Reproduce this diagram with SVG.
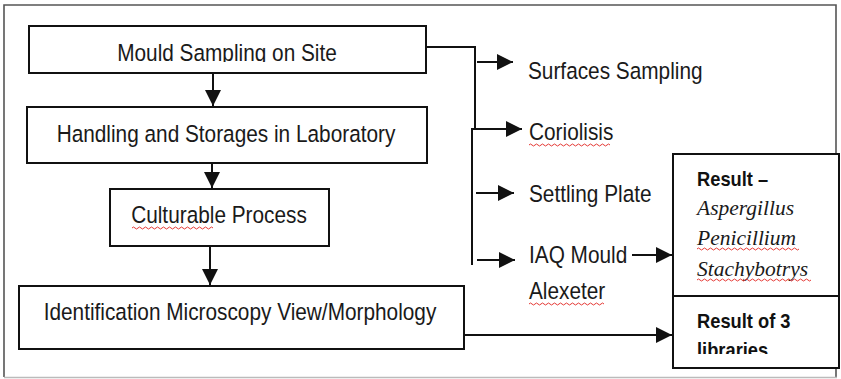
<svg xmlns="http://www.w3.org/2000/svg" width="841" height="379" viewBox="0 0 841 379">
<defs>
<style>
.frame{fill:none;stroke:#555;stroke-width:1.6}
.box{fill:#fff;stroke:#111;stroke-width:2}
.ln{fill:none;stroke:#111;stroke-width:2}
.t{font-family:"Liberation Sans",Arial,sans-serif;font-size:20.8px;fill:#1a1a1a}
.c{text-anchor:middle}
.b{font-family:"Liberation Sans",Arial,sans-serif;font-size:18.3px;font-weight:bold;fill:#111}
.i{font-family:"Liberation Serif","Times New Roman",serif;font-size:21.5px;font-style:italic;fill:#1a1a1a}
.sq{fill:none;stroke:#e53935;stroke-width:1}
</style>
<marker id="ahs" viewBox="0 0 10 10" refX="10" refY="5" markerWidth="8" markerHeight="8" markerUnits="strokeWidth" orient="auto">
<path d="M0,0 L10,5 L0,10 Z" fill="#111"/>
</marker>
<clipPath id="clip1"><rect x="28" y="25" width="400" height="37"/></clipPath>
<clipPath id="clip2"><rect x="673" y="296" width="166" height="58"/></clipPath>
</defs>
<rect x="0" y="0" width="841" height="379" fill="#fff"/>
<path class="frame" d="M4,377 V5 H836 V377"/>
<line x1="4" y1="377.5" x2="837" y2="377.5" stroke="#bbb" stroke-width="1.5"/>

<g id="connectors">
<line class="ln" x1="213" y1="73" x2="213" y2="106" marker-end="url(#ahs)"/>
<line class="ln" x1="212" y1="163" x2="212" y2="188" marker-end="url(#ahs)"/>
<line class="ln" x1="210" y1="246" x2="210" y2="285" marker-end="url(#ahs)"/>
<path class="ln" d="M426,47 H475 V129"/>
<path class="ln" d="M472,128 V265"/>
<line class="ln" x1="477" y1="62" x2="513" y2="62" marker-end="url(#ahs)"/>
<line class="ln" x1="472" y1="129" x2="522" y2="129" marker-end="url(#ahs)"/>
<line class="ln" x1="476" y1="193" x2="514" y2="193" marker-end="url(#ahs)"/>
<line class="ln" x1="477" y1="260" x2="515" y2="260" marker-end="url(#ahs)"/>
<line class="ln" x1="632" y1="255" x2="672" y2="255" marker-end="url(#ahs)"/>
<line class="ln" x1="464" y1="335" x2="672" y2="335" marker-end="url(#ahs)"/>
</g>

<g id="mould-sampling">
<rect class="box" x="29" y="26" width="397" height="47"/>
<g clip-path="url(#clip1)"><text class="t c" transform="translate(227,61) scale(1,1.13)">Mould Sampling on Site</text></g>
</g>
<g id="handling">
<rect class="box" x="27" y="107" width="400" height="56"/>
<text class="t c" transform="translate(226,142) scale(1,1.13)">Handling and Storages in Laboratory</text>
</g>
<g id="culturable">
<rect class="box" x="110" y="189" width="219" height="57"/>
<text class="t c" transform="translate(219,223) scale(1,1.13)">Culturable Process</text>
<path class="sq" d="M132,228 q1.5,-2 3,0 t3,0 t3,0 t3,0 t3,0 t3,0 t3,0 t3,0 t3,0 t3,0 t3,0 t3,0 t3,0 t3,0 t3,0 t3,0 t3,0 t3,0 t3,0 t3,0 t3,0 t3,0 t3,0 t3,0 t3,0 t3,0 t3,0"/>
</g>
<g id="identification">
<rect class="box" x="19" y="286" width="445" height="63"/>
<text class="t c" transform="translate(240,320) scale(1,1.13)">Identification Microscopy View/Morphology</text>
</g>
<g id="surfaces">
<text class="t" transform="translate(528,79) scale(1,1.13)">Surfaces Sampling</text>
</g>
<g id="coriolisis">
<text class="t" transform="translate(529,140) scale(1,1.13)">Coriolisis</text>
<path class="sq" d="M529,145 q1.5,-2 3,0 t3,0 t3,0 t3,0 t3,0 t3,0 t3,0 t3,0 t3,0 t3,0 t3,0 t3,0 t3,0 t3,0 t3,0 t3,0 t3,0 t3,0 t3,0 t3,0 t3,0 t3,0 t3,0 t3,0 t3,0 t3,0 t3,0"/>
</g>
<g id="settling">
<text class="t" transform="translate(529,202) scale(1,1.13)">Settling Plate</text>
</g>
<g id="iaq">
<text class="t" transform="translate(529,263) scale(1,1.13)">IAQ Mould</text>
<text class="t" transform="translate(529,299) scale(1,1.13)">Alexeter</text>
<path class="sq" d="M529,304 q1.5,-2 3,0 t3,0 t3,0 t3,0 t3,0 t3,0 t3,0 t3,0 t3,0 t3,0 t3,0 t3,0 t3,0 t3,0 t3,0 t3,0 t3,0 t3,0 t3,0 t3,0 t3,0 t3,0 t3,0 t3,0 t3,0"/>
</g>
<g id="result-species">
<rect class="box" x="673" y="154" width="166" height="142"/>
<text class="b" transform="translate(697,186) scale(1,1.13)">Result –</text>
<text class="i" x="697" y="215">Aspergillus</text>
<text class="i" x="697" y="245">Penicillium</text>
<text class="i" x="697" y="276">Stachybotrys</text>
<path class="sq" d="M697,249 q1.5,-2 3,0 t3,0 t3,0 t3,0 t3,0 t3,0 t3,0 t3,0 t3,0 t3,0 t3,0 t3,0 t3,0 t3,0 t3,0 t3,0 t3,0 t3,0 t3,0 t3,0 t3,0 t3,0 t3,0 t3,0 t3,0 t3,0 t3,0 t3,0 t3,0 t3,0 t3,0 t3,0 t3,0 t3,0"/>
<path class="sq" d="M697,280 q1.5,-2 3,0 t3,0 t3,0 t3,0 t3,0 t3,0 t3,0 t3,0 t3,0 t3,0 t3,0 t3,0 t3,0 t3,0 t3,0 t3,0 t3,0 t3,0 t3,0 t3,0 t3,0 t3,0 t3,0 t3,0 t3,0 t3,0 t3,0 t3,0 t3,0 t3,0 t3,0 t3,0 t3,0 t3,0 t3,0 t3,0 t3,0 t3,0"/>
</g>
<g id="result-libraries">
<rect class="box" x="673" y="296" width="166" height="72"/>
<text class="b" transform="translate(697,328) scale(1,1.13)">Result of 3</text>
<g clip-path="url(#clip2)"><text class="b" transform="translate(697,357) scale(1,1.13)">libraries</text></g>
</g>
</svg>
